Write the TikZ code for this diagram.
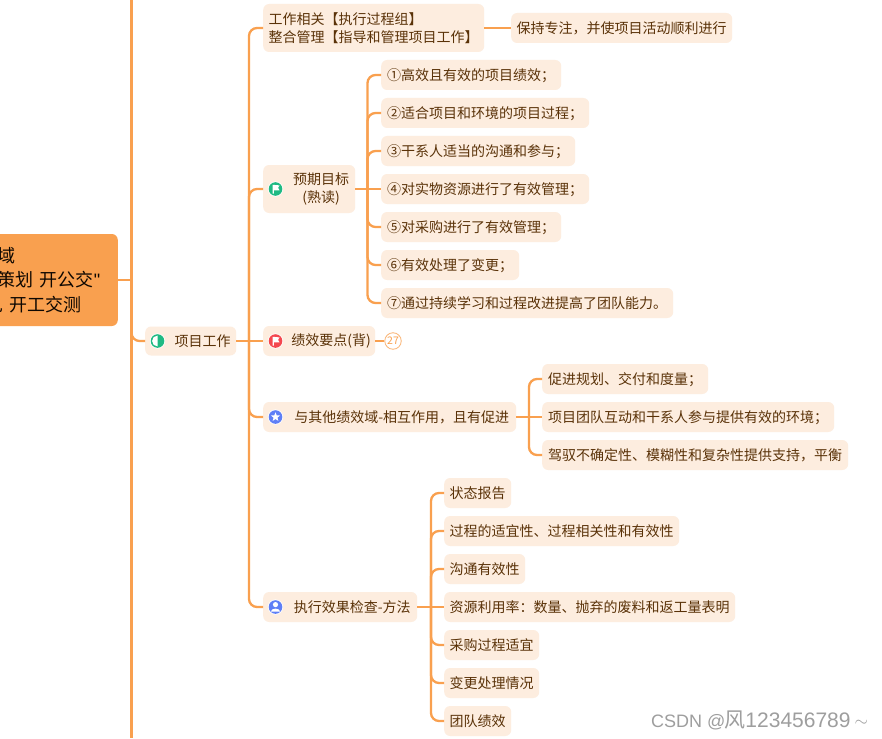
\documentclass[tikz,border=0pt]{standalone}
\usepackage{fontspec}
\setmainfont{Noto Sans CJK SC}
\newfontfamily\wmfont{Liberation Sans}
\usetikzlibrary{shapes.geometric}
\definecolor{linec}{HTML}{F9A04F}
\definecolor{boxc}{HTML}{FDEDDF}
\definecolor{textc}{HTML}{5A3208}
\definecolor{greenc}{HTML}{1FBA83}
\definecolor{redc}{HTML}{F4484F}
\definecolor{bluec}{HTML}{5F7FF6}
\tikzset{
  x=1pt,y=-1pt,
  topic/.style={fill=boxc,text=textc,rounded corners=6pt,minimum height=30pt,inner xsep=0pt,inner ysep=0pt,anchor=west,font=\fontsize{14}{18}\selectfont,align=left,execute at begin node={\rule[-1.7pt]{0pt}{14.3pt}}},
  conn/.style={draw=linec,line width=2.3pt},
  curved link/.style={conn,rounded corners=8pt},
}
\newcommand{\flagicon}[3]{%
  \fill[white] (#1,#2) circle (7.6pt);
  \fill[#3] (#1,#2) circle (6.8pt);
  \fill[white] (#1-3,#2-4.2) -- (#1+4,#2-3.6) -- (#1+2.6,#2-1.2) -- (#1+4,#2+1.4) -- (#1-1.6,#2+1.4) -- (#1-1.6,#2+4.6) -- (#1-3,#2+4.6) -- cycle;
}
\begin{document}
\begin{tikzpicture}
\useasboundingbox (0,0) rectangle (882,738);
\clip (0,0) rectangle (882,738);
\fill[white] (0,0) rectangle (882,738);

% root
\node[fill=linec,text=black!85!textc,rounded corners=6pt,anchor=east,text width=120pt,inner xsep=12pt,align=left,
      minimum height=92pt,font=\fontsize{18}{24.5}\selectfont] (root) at (118,280)
  {\hspace*{12pt}域\\\hspace*{12pt}策划\hspace{6pt}开公交{\wmfont "}\\见\hspace{6pt}开工交测};

% level 1
\node[topic,minimum width=91pt,minimum height=29pt] (proj) at (145,341) {\hspace*{24pt}项目工作};

% level 2
\node[topic,minimum width=221pt,minimum height=48pt] (a) at (263,28) {工作相关【执行过程组】\\整合管理【指导和管理项目工作】};
\node[topic,minimum width=221pt] (a1) at (511,28) {保持专注，并使项目活动顺利进行};
\node[topic,minimum width=92pt,minimum height=48pt,align=center] (goal) at (263,189) {\hspace*{24pt}预期目标\\\hspace*{24pt}(熟读)};
\node[topic,minimum width=112pt] (perf) at (263,341) {\hspace*{24pt}绩效要点(背)};
\node[topic,minimum width=253pt] (other) at (263,417) {\hspace*{24pt}与其他绩效域-相互作用，且有促进};
\node[topic,minimum width=154pt] (check) at (263,607) {\hspace*{24pt}执行效果检查-方法};

% goals
\node[topic,minimum width=180pt] (g1) at (381,75) {①高效且有效的项目绩效；};
\node[topic,minimum width=208pt] (g2) at (381,113) {②适合项目和环境的项目过程；};
\node[topic,minimum width=194pt] (g3) at (381,151) {③干系人适当的沟通和参与；};
\node[topic,minimum width=208pt] (g4) at (381,189) {④对实物资源进行了有效管理；};
\node[topic,minimum width=180pt] (g5) at (381,227) {⑤对采购进行了有效管理；};
\node[topic,minimum width=138pt] (g6) at (381,265) {⑥有效处理了变更；};
\node[topic,minimum width=292pt] (g7) at (381,303) {⑦通过持续学习和过程改进提高了团队能力。};

% other
\node[topic,minimum width=166pt] (o1) at (542,379) {促进规划、交付和度量；};
\node[topic,minimum width=292pt] (o2) at (542,417) {项目团队互动和干系人参与提供有效的环境；};
\node[topic,minimum width=306pt] (o3) at (542,455) {驾驭不确定性、模糊性和复杂性提供支持，平衡};

% check
\node[topic,minimum width=67pt] (c1) at (444,493) {状态报告};
\node[topic,minimum width=235pt] (c2) at (444,531) {过程的适宜性、过程相关性和有效性};
\node[topic,minimum width=81pt] (c3) at (444,569) {沟通有效性};
\node[topic,minimum width=291pt] (c4) at (444,607) {资源利用率：数量、抛弃的废料和返工量表明};
\node[topic,minimum width=95pt] (c5) at (444,645) {采购过程适宜};
\node[topic,minimum width=95pt] (c6) at (444,683) {变更处理情况};
\node[topic,minimum width=67pt] (c7) at (444,721) {团队绩效};

% count badge
\node[circle,draw=linec!80!white,fill=white,line width=0.8pt,minimum size=16.5pt,inner sep=0pt,text=linec,font=\fontsize{10.5}{11}\selectfont] (count) at (393,341) {27};

% junctions
\coordinate (t0) at (131.5,280);
\coordinate (t0top) at (131.5,0);
\coordinate (t0bot) at (131.5,738);
\coordinate (t1) at (249,341);
\coordinate (t2) at (367.5,189);
\coordinate (t3) at (529,417);
\coordinate (t4) at (431,607);

% connectors
\draw[conn,line width=2.5pt] (t0top) -- (t0bot);
\draw[conn] (root.east) -- (t0);
\draw[curved link] (t0) |- (proj.west);
\draw[conn] (proj.east) -- (perf.west);
\draw[curved link] (t1) |- (a.west);
\draw[curved link] (t1) |- (goal.west);
\draw[curved link] (t1) |- (other.west);
\draw[curved link] (t1) |- (check.west);
\draw[conn] (a.east) -- (a1.west);
\draw[conn] (goal.east) -- (g4.west);
\foreach \n in {g1,g2,g3,g5,g6,g7} \draw[curved link] (t2) |- (\n.west);
\draw[conn] (other.east) -- (o2.west);
\foreach \n in {o1,o3} \draw[curved link] (t3) |- (\n.west);
\draw[conn] (check.east) -- (c4.west);
\foreach \n in {c1,c2,c3,c5,c6,c7} \draw[curved link] (t4) |- (\n.west);
\draw[conn,line width=1.6pt] (perf.east) -- (count.west);

% icons
\fill[white] (157.5,341) circle (7.6pt);
\fill[greenc] (157.5,341) circle (6.8pt);
\fill[white] (157.5,335.6) arc (90:270:5.4pt) -- cycle;
\flagicon{275.5}{189}{greenc}
\flagicon{275.5}{341}{redc}
\fill[white] (275.5,417) circle (7.6pt);
\fill[bluec] (275.5,417) circle (6.8pt);
\node[star,star points=5,star point ratio=2.3,fill=white,inner sep=0pt,minimum size=9.5pt] (staricon) at (275.5,417) {};
\fill[white] (275.5,607) circle (7.6pt);
\fill[bluec] (275.5,607) circle (6.8pt);
\fill[white] (275.5,604.6) circle (2.6pt);
\fill[white] (270.8,611.6) .. controls (271.4,607.6) and (279.6,607.6) .. (280.2,611.6) -- cycle;

% watermark
\node[anchor=west,inner sep=0pt,text=black!38,font=\fontsize{18}{18}\selectfont] (wm) at (651,720) {\wmfont CSDN @\hspace{-1pt}{\fontsize{21}{21}\selectfont\normalfont 风\wmfont 123456789}\hspace{4pt}\raisebox{1pt}{$\sim$}};
\end{tikzpicture}
\end{document}
